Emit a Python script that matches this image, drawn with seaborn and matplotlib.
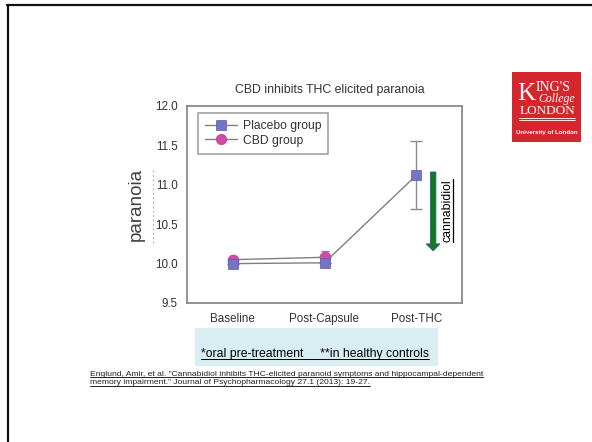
import numpy as np
import pandas as pd
import matplotlib
matplotlib.use("Agg")
import matplotlib.pyplot as plt
import seaborn as sns
from matplotlib.patches import Rectangle, FancyArrow
from matplotlib.lines import Line2D

# ---- data ----
timepoints = ["Baseline", "Post-Capsule", "Post-THC"]
placebo_values = [10.00, 10.01, 11.12]
placebo_err = [0.0, 0.0, 0.43]
cbd_timepoints = ["Baseline", "Post-Capsule"]
cbd_values = [10.05, 10.08]
cbd_err_up = [0.0, 0.08]
yticks = [9.5, 10.0, 10.5, 11.0, 11.5, 12.0]
group_names = ["Placebo group", "CBD group"]

title = "CBD inhibits THC elicited paranoia"
note_text = "*oral pre-treatment     **in healthy controls"
citation_lines = [
    'Englund, Amir, et al. "Cannabidiol inhibits THC-elicited paranoid symptoms and hippocampal-dependent',
    'memory impairment." Journal of Psychopharmacology 27.1 (2013): 19-27.',
]

df = pd.DataFrame({
    "timepoint": timepoints + cbd_timepoints,
    "paranoia": placebo_values + cbd_values,
    "group": [group_names[0]] * len(timepoints) + [group_names[1]] * len(cbd_timepoints),
})

sns.set_style("white")
plt.rcParams["font.family"] = ["Liberation Sans", "DejaVu Sans"]

W, H = 592, 442
fig = plt.figure(figsize=(W / 100, H / 100), dpi=100)
fig.patch.set_facecolor("white")

def fx(px):
    return px / W

def fy(py):
    return 1 - py / H

ax = fig.add_axes([fx(187), fy(303), fx(462) - fx(187), fy(106) - fy(303)])

grey = "#8a8a8a"
line_grey = "#7f7f7f"
colors = {group_names[0]: "#7474c4", group_names[1]: "#d24aa8"}

# lines (grey), one per group
sns.lineplot(data=df, x="timepoint", y="paranoia", units="group", estimator=None,
             color=line_grey, lw=1.0, sort=False, ax=ax, legend=False, zorder=2)

# error bars
ax.errorbar(cbd_timepoints, cbd_values, yerr=[[0, 0], cbd_err_up], fmt="none",
            ecolor=grey, elinewidth=1.0, capsize=3, zorder=2.5)
ax.errorbar(timepoints, placebo_values, yerr=placebo_err, fmt="none",
            ecolor=grey, elinewidth=1.0, capsize=4, zorder=2.5)

# markers: CBD first, placebo on top
sns.scatterplot(data=df[df.group == group_names[1]], x="timepoint", y="paranoia",
                marker="o", s=62, color=colors[group_names[1]], edgecolor="#c03a98",
                linewidth=0.5, ax=ax, legend=False, zorder=3)
sns.scatterplot(data=df[df.group == group_names[0]], x="timepoint", y="paranoia",
                marker="s", s=60, color=colors[group_names[0]], edgecolor="#5a5aa8",
                linewidth=0.5, ax=ax, legend=False, zorder=4)

ax.set_xlim(-0.5, 2.5)
ax.set_ylim(9.5, 12.0)
ax.set_yticks(yticks)
ax.set_yticklabels([f"{v:.1f}" for v in yticks])
ax.set_xlabel("")
ax.set_ylabel("paranoia", fontsize=13.5, color="#404040")
ax.yaxis.set_label_coords(-0.155, 0.5)
for s in ax.spines.values():
    s.set_color(grey)
    s.set_linewidth(1.3)
ax.tick_params(axis="both", direction="out", length=3.5, width=1.0, color=grey,
               labelsize=8.4, labelcolor="#333333", pad=3)
ax.tick_params(axis="x", pad=4)
ax.set_title(title, fontsize=8.8, color="#333333", pad=9, x=0.52)

handles = [
    Line2D([], [], color=line_grey, lw=1.0, marker="s", markersize=7.5,
           markerfacecolor=colors[group_names[0]], markeredgecolor="#5a5aa8", markeredgewidth=0.5),
    Line2D([], [], color=line_grey, lw=1.0, marker="o", markersize=7.5,
           markerfacecolor=colors[group_names[1]], markeredgecolor="#c03a98", markeredgewidth=0.5),
]
leg = ax.legend(handles, group_names, loc="upper left", bbox_to_anchor=(0.04, 0.965),
                fontsize=8.7, frameon=True, fancybox=False, borderpad=0.6,
                handlelength=2.6, labelspacing=0.2, handletextpad=0.5, borderaxespad=0)
leg.get_frame().set_edgecolor(grey)
leg.get_frame().set_linewidth(1.2)
for t in leg.get_texts():
    t.set_color("#333333")

# green arrow annotation (axes fraction)
arr = FancyArrow(0.895, 0.665, 0, -0.40, width=0.02, head_width=0.05, head_length=0.035,
                 length_includes_head=True, transform=ax.transAxes,
                 facecolor="#167a16", edgecolor="#2a5aa0", linewidth=0.6, zorder=5)
ax.add_patch(arr)
can_txt = ax.text(0.947, 0.47, "cannabidiol", rotation=90, transform=ax.transAxes,
                  ha="center", va="center", fontsize=8.8, color="black")

# slide border
fig.add_artist(Line2D([fx(7), 1.0], [fy(5), fy(5)], color="#111111", lw=1.6))
fig.add_artist(Line2D([fx(8), fx(8)], [fy(5), 0.0], color="#111111", lw=1.6))

# faint dashed line left of axis
fig.add_artist(Line2D([fx(153), fx(153)], [fy(170), fy(245)], color="#bbbbbb",
                      lw=0.8, ls=(0, (2, 2))))

# light blue note box
fig.add_artist(Rectangle((fx(195), fy(366)), fx(438) - fx(195), fy(328) - fy(366),
                         transform=fig.transFigure, facecolor="#d8eef3", edgecolor="none"))
note = fig.text(fx(201), fy(354), note_text, fontsize=8.85, color="black", ha="left", va="center")

cits = []
for i, line in enumerate(citation_lines):
    cits.append(fig.text(fx(90), fy(374 + 9 * i), line, fontsize=6.1, color="#222222",
                         ha="left", va="center"))

# King's College London logo
fig.add_artist(Rectangle((fx(512), fy(142)), fx(581) - fx(512), fy(72) - fy(142),
                         transform=fig.transFigure, facecolor="#d6262d", edgecolor="none"))
serif = ["Liberation Serif", "DejaVu Serif"]
fig.text(fx(517), fy(100), "K", fontsize=18, color="white", family=serif, ha="left", va="baseline")
fig.text(fx(536), fy(91.5), "ING'S", fontsize=10, color="white", family=serif, ha="left", va="baseline")
fig.text(fx(575), fy(102), "College", fontsize=8.5, color="white", family=serif, style="italic",
         ha="right", va="baseline")
fig.text(fx(547), fy(114), "LONDON", fontsize=9.5, color="white", family=serif, ha="center", va="baseline")
fig.add_artist(Line2D([fx(519), fx(575)], [fy(118), fy(118)], color="white", lw=0.6))
fig.add_artist(Line2D([fx(519), fx(575)], [fy(120), fy(120)], color="white", lw=0.6))
fig.text(fx(547), fy(132.5), "University of London", fontsize=4.4, color="white", weight="bold",
         ha="center", va="center")

# underlines
fig.canvas.draw()
r = fig.canvas.get_renderer()
inv = fig.transFigure.inverted()
for t in [note] + cits:
    bb = t.get_window_extent(r)
    (x0, y0), (x1, y1) = inv.transform([[bb.x0, bb.y0], [bb.x1, bb.y1]])
    fig.add_artist(Line2D([x0, x1], [y0 + 0.002, y0 + 0.002], color=t.get_color(), lw=0.7))
bb = can_txt.get_window_extent(r)
(x0, y0), (x1, y1) = inv.transform([[bb.x0, bb.y0], [bb.x1, bb.y1]])
fig.add_artist(Line2D([x1 - 0.001, x1 - 0.001], [y0, y1], color="black", lw=0.9))

fig.savefig("out.png", dpi=100)
